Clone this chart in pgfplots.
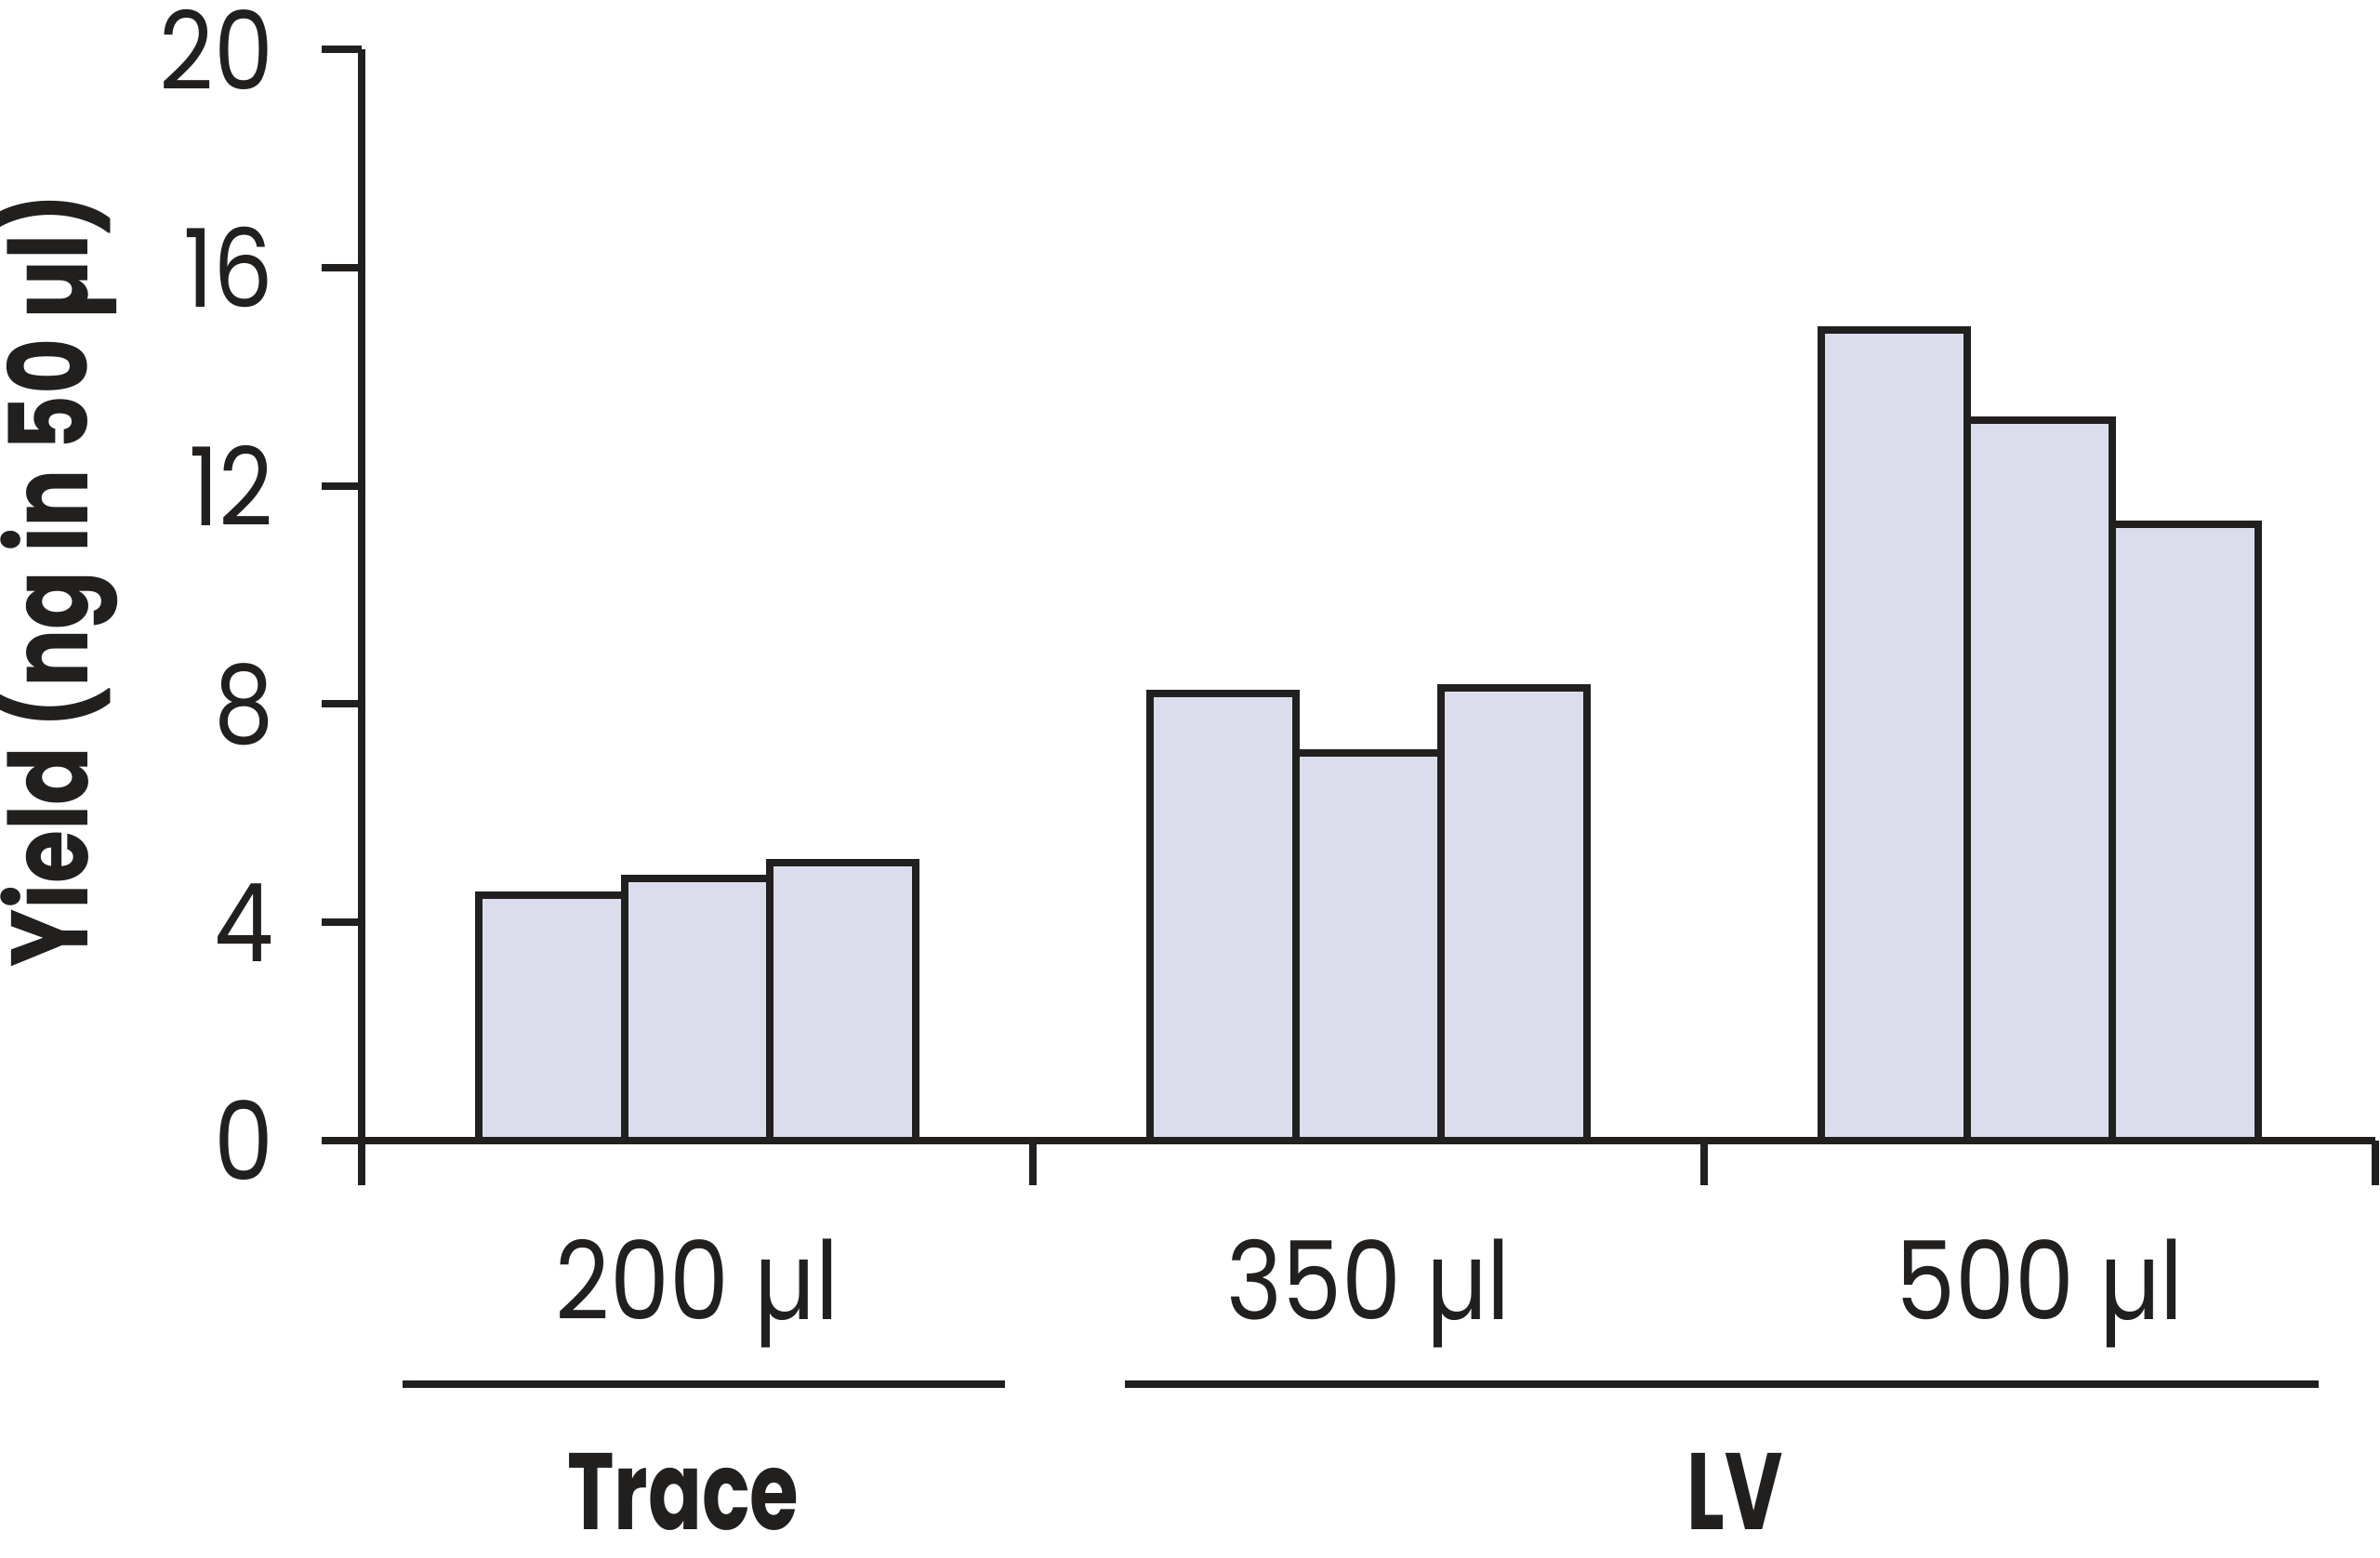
\documentclass[border=0pt]{standalone}
\usepackage{fontspec}
\setmainfont{Poppins}[FakeStretch=0.87, BoldFeatures={FakeStretch=0.73}]
\usepackage{graphicx}
\usepackage{pgfplots}
\pgfplotsset{compat=1.18}
\definecolor{barfill}{RGB}{220,221,236}
\definecolor{ink}{RGB}{34,32,31}
\newcommand{\lab}{\fontsize{11.7}{14}\selectfont}
\begin{document}
\begin{tikzpicture}
\useasboundingbox (-38.9pt,-44.9pt) rectangle (217.1pt,122.7pt);
\begin{axis}[
  at={(0,0)}, anchor=south west,
  scale only axis, width=216.6pt, height=117.4pt,
  xmin=0, xmax=3, ymin=0, ymax=20,
  axis x line=bottom, axis y line=left,
  axis line style={ink, line width=0.8pt, -},
  tick align=outside,
  xtick={0,1,2,3}, xticklabels={},
  ytick={0,4,8,12,16,20},
  major tick style={ink, line width=0.8pt},
  xtick style={/pgfplots/major tick length=4.8pt},
  ytick style={/pgfplots/major tick length=4.3pt},
  yticklabel style={font=\lab, text=ink, anchor=east, inner sep=0pt, xshift=-5pt},
  /pgf/number format/assume math mode=true,
  clip=false,
]
\addplot[ybar, bar width=0.2167, bar shift=0pt, fill=barfill, draw=ink, line width=0.8pt]
  coordinates {(0.2833,4.5) (0.5,4.8) (0.7167,5.1)
               (1.2833,8.2) (1.5,7.1) (1.7167,8.3)
               (2.2833,14.85) (2.5,13.2) (2.7167,11.3)};
\node[font=\lab, text=ink, anchor=base, yshift=-19.3pt] at (axis cs:0.5,0) {200 µl};
\node[font=\lab, text=ink, anchor=base, yshift=-19.3pt] at (axis cs:1.5,0) {350 µl};
\node[font=\lab, text=ink, anchor=base, yshift=-19.3pt] at (axis cs:2.5,0) {500 µl};
\draw[ink, line width=0.8pt] ([yshift=-26.2pt]axis cs:0.061,0) -- ([yshift=-26.2pt]axis cs:0.958,0);
\draw[ink, line width=0.8pt] ([yshift=-26.2pt]axis cs:1.137,0) -- ([yshift=-26.2pt]axis cs:2.916,0);
\node[font=\lab\bfseries, text=ink, anchor=base, yshift=-41.9pt] at (axis cs:0.479,0) {Trace};
\node[font=\lab\bfseries, text=ink, anchor=base, yshift=-41.9pt] at (axis cs:2.046,0) {LV};
\node[font=\lab\bfseries, text=ink, rotate=90, anchor=base] at ([xshift=-29.4pt]axis cs:0,10.27) {\scalebox{1.085}[1]{Yield (ng in 50 µl)}};
\end{axis}
\end{tikzpicture}
\end{document}
